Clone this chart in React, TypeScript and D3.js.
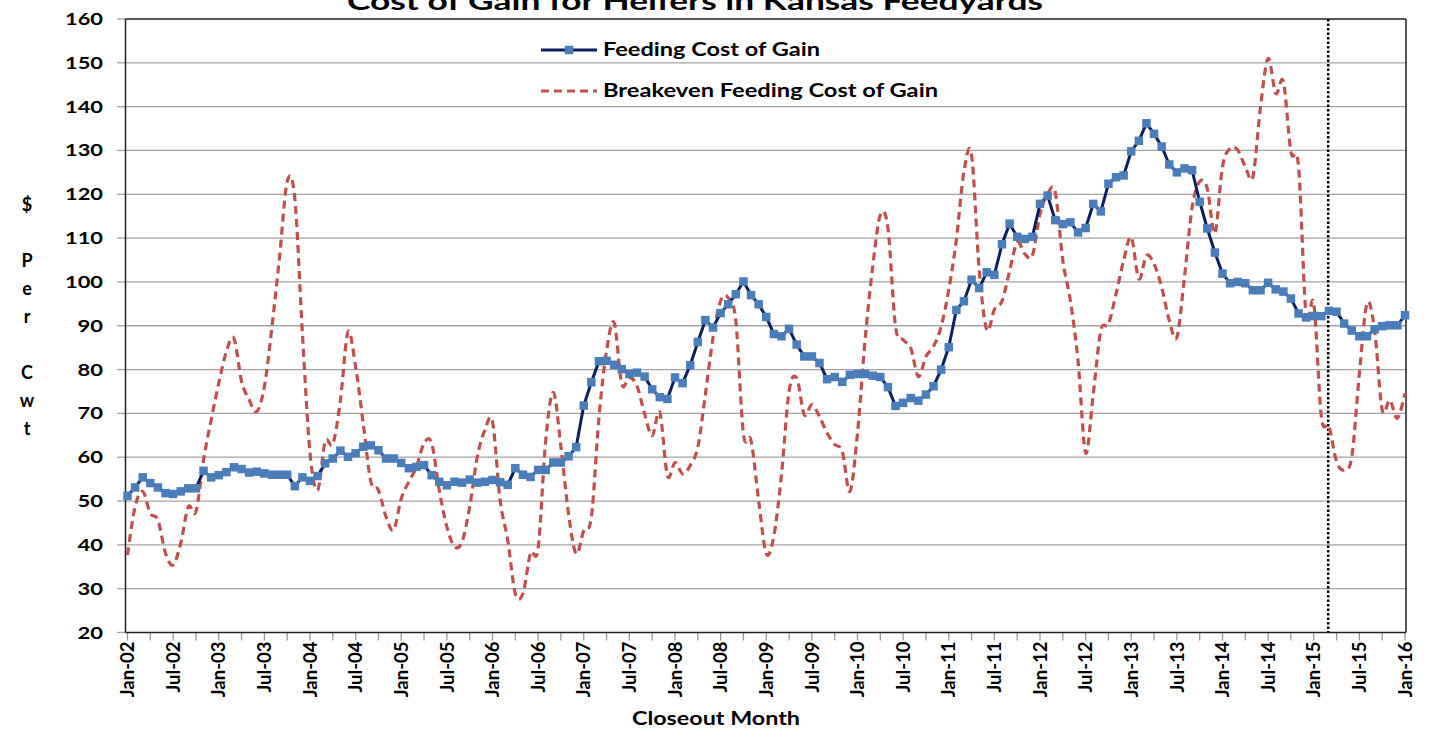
import React from 'react';
import * as d3 from 'd3';

// ---- Data ----
const feedingCost: number[] = [
  51.2, 53.1, 55.4, 54.1, 53.1, 51.8, 51.6, 52.2, 52.9, 52.9,
  56.9, 55.4, 55.9, 56.6, 57.7, 57.3, 56.5, 56.7, 56.3, 56.0,
  56.0, 56.0, 53.4, 55.4, 54.6, 55.7, 58.6, 59.7, 61.5, 60.1,
  60.9, 62.4, 62.7, 61.6, 59.7, 59.7, 58.7, 57.5, 57.8, 58.2,
  55.9, 54.4, 53.6, 54.4, 54.2, 54.9, 54.2, 54.4, 54.8, 54.3,
  53.7, 57.5, 56.0, 55.5, 57.1, 57.1, 58.8, 58.8, 60.2, 62.3,
  71.8, 77.1, 81.9, 82.0, 81.1, 80.1, 79.0, 79.3, 78.4, 75.5,
  73.7, 73.3, 78.2, 76.9, 81.0, 86.3, 91.3, 89.6, 92.9, 94.9,
  97.2, 100.1, 97.0, 94.9, 92.0, 88.1, 87.6, 89.3, 85.7, 83.0,
  83.0, 81.5, 77.8, 78.3, 77.2, 78.8, 79.0, 79.0, 78.6, 78.3,
  76.0, 71.7, 72.4, 73.5, 72.9, 74.3, 76.2, 80.0, 85.1, 93.6,
  95.6, 100.5, 98.6, 102.2, 101.6, 108.6, 113.3, 110.3, 109.8, 110.3,
  117.8, 119.7, 114.1, 113.2, 113.6, 111.3, 112.3, 117.8, 116.1, 122.4,
  123.9, 124.3, 129.8, 132.2, 136.2, 133.8, 130.9, 126.8, 125.0, 125.9,
  125.5, 118.3, 112.2, 106.7, 101.9, 99.7, 100.0, 99.7, 98.1, 98.1,
  99.8, 98.3, 97.8, 96.2, 92.8, 91.9, 92.2, 92.2, 93.4, 93.2,
  90.5, 88.9, 87.6, 87.6, 89.2, 89.9, 90.1, 90.1, 92.4,
];

const breakevenCost: number[] = [
  37.7, 48.7, 52.2, 47.2, 45.7, 38.1, 35.4, 40.4, 48.7, 47.6,
  59.4, 68.5, 76.9, 84.1, 87.1, 77.3, 73.1, 70.4, 76.1, 89.8,
  105.8, 122.9, 119.1, 88.3, 61.0, 52.5, 63.6, 63.0, 73.0, 88.6,
  80.6, 67.7, 54.4, 52.5, 46.4, 43.4, 50.6, 54.4, 57.8, 63.2,
  63.2, 52.5, 44.1, 39.6, 40.7, 48.7, 60.1, 66.2, 68.1, 50.2,
  41.1, 28.9, 28.9, 38.1, 39.2, 63.9, 74.8, 62.3, 47.1, 38.0,
  43.3, 46.3, 69.1, 84.3, 90.7, 76.7, 78.2, 76.3, 69.9, 64.9,
  70.2, 55.8, 58.8, 56.2, 58.1, 62.3, 74.4, 87.3, 95.7, 96.4,
  91.1, 65.3, 63.8, 50.1, 38.0, 42.0, 56.0, 75.0, 78.1, 69.7,
  72.0, 69.3, 65.5, 62.9, 61.3, 52.2, 65.5, 86.8, 103.5, 115.3,
  112.3, 89.8, 86.8, 84.9, 78.4, 83.0, 85.3, 89.8, 98.2, 109.6,
  125.2, 129.0, 102.8, 89.1, 93.7, 95.6, 102.5, 109.0, 106.4, 106.0,
  115.5, 120.1, 120.5, 104.9, 95.7, 82.0, 61.0, 74.4, 88.9, 90.4,
  97.3, 104.9, 110.2, 100.7, 106.0, 104.1, 98.8, 91.2, 87.4, 101.1,
  117.0, 122.9, 121.3, 111.1, 126.3, 130.5, 130.1, 126.3, 124.0, 140.0,
  151.0, 143.0, 145.7, 129.7, 126.3, 92.1, 95.1, 69.2, 67.0, 59.0,
  57.1, 60.1, 79.1, 95.1, 89.0, 70.8, 73.0, 68.9, 74.6,
];

const xTickLabels: string[] = [
  'Jan-02', 'Jul-02', 'Jan-03', 'Jul-03', 'Jan-04', 'Jul-04', 'Jan-05', 'Jul-05',
  'Jan-06', 'Jul-06', 'Jan-07', 'Jul-07', 'Jan-08', 'Jul-08', 'Jan-09', 'Jul-09',
  'Jan-10', 'Jul-10', 'Jan-11', 'Jul-11', 'Jan-12', 'Jul-12', 'Jan-13', 'Jul-13',
  'Jan-14', 'Jul-14', 'Jan-15', 'Jul-15', 'Jan-16',
];

const yTickValues: number[] = [20, 30, 40, 50, 60, 70, 80, 90, 100, 110, 120, 130, 140, 150, 160];
const yAxisLetters: string[] = ['$', '', 'P', 'e', 'r', '', 'C', 'w', 't'];

const titleText = 'Cost of Gain for Heifers in Kansas Feedyards';
const seriesNames = ['Feeding Cost of Gain', 'Breakeven Feeding Cost of Gain'];
const xAxisTitle = 'Closeout Month';
const markerMonth = 157.9; // vertical dotted divider

// ---- Layout ----
const W = 1437;
const H = 740;
const plotLeft = 125.5;
const plotRight = 1406;
const plotTop = 19;
const plotBottom = 632.5;

const FONT = 'Lato, "Open Sans", "Liberation Sans", sans-serif';
const BLUE_LINE = '#0B1F5E';
const BLUE_MARK = '#4A7EBB';
const RED = '#C0504D';

export default function App() {
  const n = feedingCost.length - 1;
  const x = d3.scaleLinear().domain([0, n]).range([127.5, 1405]);
  const y = d3.scaleLinear().domain([20, 160]).range([plotBottom, plotTop]);

  const blueLine = d3
    .line<number>()
    .x((_, i) => x(i))
    .y((d) => y(d))(feedingCost) as string;

  const redLine = d3
    .line<number>()
    .x((_, i) => x(i))
    .y((d) => y(d))
    .curve(d3.curveCardinal.tension(0))(breakevenCost) as string;

  const minorTicks = d3.range(0, n + 1, 3);
  const labelTicks = xTickLabels.map((lab, i) => ({ lab, m: i * 6 }));
  const ms = 8.5;

  return (
    <svg
      width={W}
      height={H}
      style={{ position: 'absolute', left: 0, top: 0, background: '#fff' }}
      fontFamily={FONT}
    >
      <rect x={0} y={0} width={W} height={H} fill="#fff" />

      {/* Title (cut off at top like the reference) */}
      <text
        x={695}
        y={9.5}
        textAnchor="middle"
        fontSize={25}
        fontWeight={700}
        textLength={696}
        lengthAdjust="spacingAndGlyphs"
        fill="#000"
      >
        {titleText}
      </text>

      {/* Gridlines */}
      {yTickValues
        .filter((v) => v > 20 && v < 160)
        .map((v) => (
          <line key={'g' + v} x1={plotLeft} x2={plotRight} y1={y(v)} y2={y(v)} stroke="#a3a3a3" strokeWidth={1.3} />
        ))}

      {/* Y tick marks and labels */}
      {yTickValues.map((v) => (
        <g key={'yt' + v}>
          <line x1={117} x2={plotLeft} y1={y(v)} y2={y(v)} stroke="#a3a3a3" strokeWidth={1.3} />
          <text
            x={103}
            y={y(v) + 6}
            textAnchor="end"
            fontSize={17}
            fontWeight={700}
            textLength={v >= 100 ? 38 : 25.5}
            lengthAdjust="spacingAndGlyphs"
            fill="#000"
          >
            {v}
          </text>
        </g>
      ))}

      {/* Y axis title: stacked letters */}
      {yAxisLetters.map((c, i) =>
        c ? (
          <text
            key={'ya' + i}
            x={27}
            y={205 + i * 28 + 6}
            textAnchor="middle"
            fontSize={18}
            fontWeight={700}
            fill="#000"
          >
            {c}
          </text>
        ) : null
      )}

      {/* X ticks */}
      {minorTicks.map((m) => (
        <line key={'xt' + m} x1={x(m)} x2={x(m)} y1={plotBottom} y2={plotBottom + 8} stroke="#999" strokeWidth={1.3} />
      ))}
      {labelTicks.map(({ lab, m }) => (
        <text
          key={'xl' + lab}
          transform={`translate(${x(m)},${plotBottom + 9}) rotate(-90)`}
          textAnchor="end"
          dy="0.36em"
          fontSize={18.5}
          fontWeight={700}
          fill="#000"
        >
          {lab}
        </text>
      ))}

      {/* X axis title */}
      <text
        x={716}
        y={725}
        textAnchor="middle"
        fontSize={18}
        fontWeight={700}
        textLength={168}
        lengthAdjust="spacingAndGlyphs"
        fill="#000"
      >
        {xAxisTitle}
      </text>

      {/* Plot border */}
      <line x1={plotLeft} x2={plotRight} y1={plotTop} y2={plotTop} stroke="#222" strokeWidth={1.5} />
      <line x1={plotRight} x2={plotRight} y1={plotTop} y2={plotBottom} stroke="#222" strokeWidth={1.5} />
      <line x1={plotLeft} x2={plotLeft} y1={plotTop} y2={plotBottom} stroke="#222" strokeWidth={1.5} />
      <line x1={plotLeft} x2={plotRight} y1={plotBottom} y2={plotBottom} stroke="#222" strokeWidth={1.5} />

      {/* Vertical dotted divider */}
      <line
        x1={x(markerMonth)}
        x2={x(markerMonth)}
        y1={plotTop}
        y2={plotBottom}
        stroke="#000"
        strokeWidth={2.5}
        strokeDasharray="2.5,2"
      />

      {/* Breakeven series */}
      <path d={redLine} fill="none" stroke={RED} strokeWidth={3.2} strokeDasharray="8,5" />

      {/* Feeding series */}
      <path d={blueLine} fill="none" stroke={BLUE_LINE} strokeWidth={3} />
      {feedingCost.map((v, i) => (
        <rect key={'m' + i} x={x(i) - ms / 2} y={y(v) - ms / 2} width={ms} height={ms} fill={BLUE_MARK} />
      ))}

      {/* Legend */}
      <line x1={541} x2={597} y1={50} y2={50} stroke={BLUE_LINE} strokeWidth={3} />
      <rect x={569 - ms / 2} y={50 - ms / 2} width={ms} height={ms} fill={BLUE_MARK} />
      <text
        x={603}
        y={56}
        fontSize={18}
        fontWeight={700}
        textLength={217}
        lengthAdjust="spacingAndGlyphs"
        fill="#000"
      >
        {seriesNames[0]}
      </text>
      <line x1={541} x2={597} y1={91} y2={91} stroke={RED} strokeWidth={3.2} strokeDasharray="8,5" />
      <text
        x={603}
        y={97}
        fontSize={18}
        fontWeight={700}
        textLength={335}
        lengthAdjust="spacingAndGlyphs"
        fill="#000"
      >
        {seriesNames[1]}
      </text>
    </svg>
  );
}
